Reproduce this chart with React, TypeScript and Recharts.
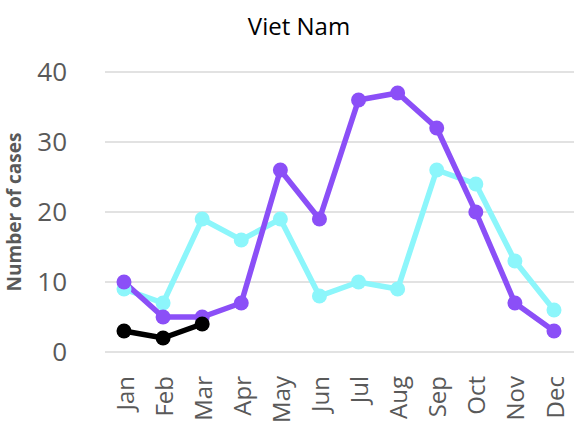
import { LineChart, Line, XAxis, YAxis, CartesianGrid } from 'recharts'

const months = ['Jan', 'Feb', 'Mar', 'Apr', 'May', 'Jun', 'Jul', 'Aug', 'Sep', 'Oct', 'Nov', 'Dec']
const purpleCases = [10, 5, 5, 7, 26, 19, 36, 37, 32, 20, 7, 3]
const cyanCases = [9, 7, 19, 16, 19, 8, 10, 9, 26, 24, 13, 6]
const blackCases = [3, 2, 4]
const yTicks = [0, 10, 20, 30, 40]

const data = months.map((m, i) => ({
  month: m,
  purple: purpleCases[i],
  cyan: cyanCases[i],
  black: i < blackCases.length ? blackCases[i] : null,
}))

const FONT = '"Open Sans", "Noto Sans", sans-serif'

const MonthTick = ({ x, y, payload }: any) => (
  <text
    x={x}
    y={y}
    transform={`rotate(-90, ${x}, ${y})`}
    textAnchor="end"
    dominantBaseline="central"
    fill="#595959"
    fontSize={24}
    fontFamily={FONT}
  >
    {payload.value}
  </text>
)

export default function App() {
  return (
    <div style={{ position: 'fixed', left: 0, top: 0, width: 574, height: 423, background: '#fff' }}>
      <div
        style={{
          position: 'absolute',
          top: 9,
          left: 0,
          width: 598,
          textAlign: 'center',
          fontFamily: FONT,
          fontSize: 24,
          color: '#000',
        }}
      >
        Viet Nam
      </div>
      <LineChart width={574} height={423} data={data} margin={{ top: 72, right: 0, left: 0, bottom: 0 }}>
        <CartesianGrid vertical={false} stroke="#d9d9d9" strokeWidth={1.5} />
        <XAxis
          dataKey="month"
          axisLine={false}
          tickLine={false}
          interval={0}
          height={71}
          tickMargin={18}
          padding={{ left: 19, right: 20 }}
          tick={<MonthTick />}
        />
        <YAxis
          domain={[0, 40]}
          ticks={yTicks}
          width={105}
          axisLine={false}
          tickLine={false}
          tickMargin={32}
          tick={{ fill: '#595959', fontSize: 26, fontFamily: FONT }}
          label={{
            value: 'Number of cases',
            angle: -90,
            position: 'insideLeft',
            offset: 14,
            style: { fill: '#595959', fontSize: 19, fontWeight: 'bold', fontFamily: FONT, textAnchor: 'middle' },
          }}
        />
        <Line
          dataKey="cyan"
          stroke="#8cf6fb"
          strokeWidth={5.5}
          dot={{ r: 7.5, fill: '#8cf6fb', stroke: '#8cf6fb', strokeWidth: 0 }}
          isAnimationActive={false}
        />
        <Line
          dataKey="purple"
          stroke="#8b4ff7"
          strokeWidth={5.5}
          dot={{ r: 7.5, fill: '#8b4ff7', stroke: '#8b4ff7', strokeWidth: 0 }}
          isAnimationActive={false}
        />
        <Line
          dataKey="black"
          stroke="#000000"
          strokeWidth={5.5}
          dot={{ r: 7.5, fill: '#000000', stroke: '#000000', strokeWidth: 0 }}
          connectNulls={false}
          isAnimationActive={false}
        />
      </LineChart>
    </div>
  )
}
